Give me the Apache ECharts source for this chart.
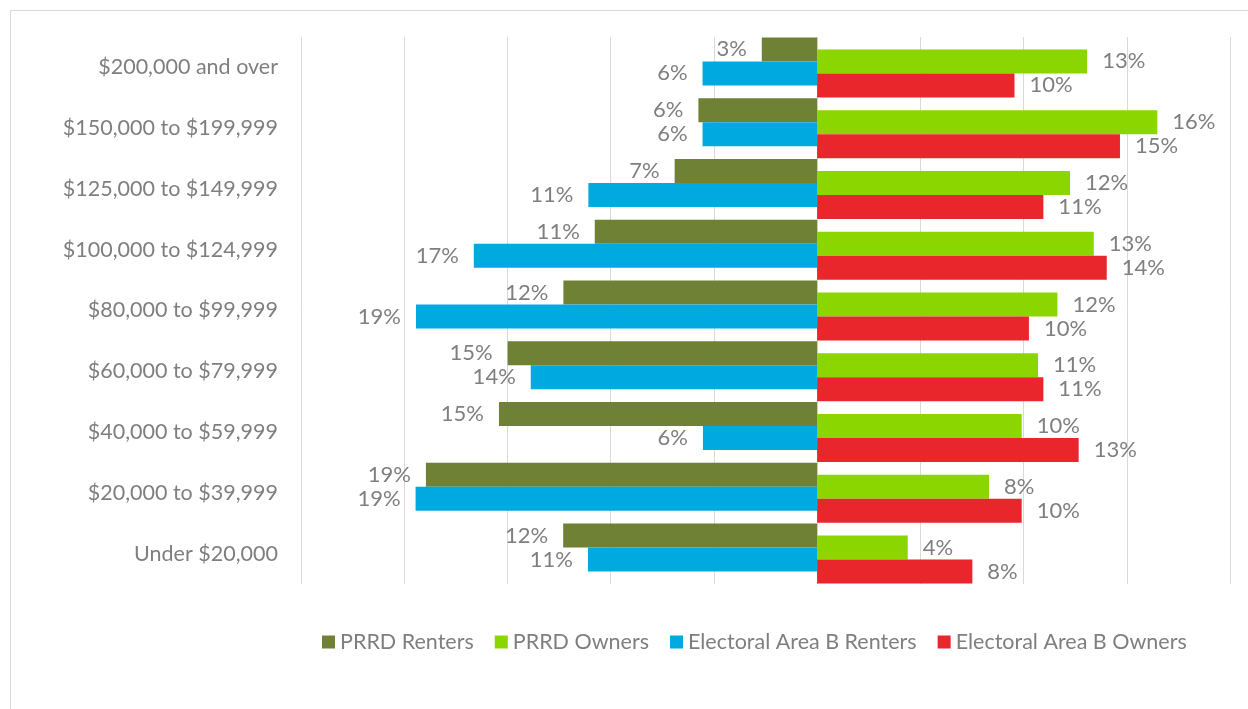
<!DOCTYPE html>
<html>
<head>
<meta charset="utf-8">
<script src="https://cdn.jsdelivr.net/npm/echarts@6/dist/echarts.min.js"></script>
<style>
  html, body { margin: 0; padding: 0; background: #ffffff; }
  #chart { width: 1248px; height: 709px; }
</style>
</head>
<body>
<div id="chart"></div>
<script>
// Categories, listed top to bottom as shown
const categories = [
  '$200,000 and over',
  '$150,000 to $199,999',
  '$125,000 to $149,999',
  '$100,000 to $124,999',
  '$80,000 to $99,999',
  '$60,000 to $79,999',
  '$40,000 to $59,999',
  '$20,000 to $39,999',
  'Under $20,000'
];

// Shares in percent (renters drawn to the left of zero)
const prrdRenters = [2.68, 5.75, 6.9, 10.77, 12.29, 14.99, 15.41, 18.95, 12.3];
const prrdOwners  = [13.08, 16.48, 12.25, 13.4, 11.64, 10.7, 9.91, 8.33, 4.39];
const eabRenters  = [5.55, 5.55, 11.08, 16.63, 19.43, 13.87, 5.53, 19.45, 11.1];
const eabOwners   = [9.56, 14.67, 10.96, 14.03, 10.26, 10.96, 12.67, 9.91, 7.52];

const seriesNames = ['PRRD Renters', 'PRRD Owners', 'Electoral Area B Renters', 'Electoral Area B Owners'];
const seriesColors = ['#6E8135', '#8CD600', '#00A9DF', '#E8262B'];

const FONT = 'Lato';
const TEXT = '#7f7f7f';

function makeSeries(idx, values, leftSide) {
  return {
    name: seriesNames[idx],
    type: 'bar',
    data: values.map(v => leftSide ? -v : v),
    barWidth: 24,
    barGap: '-50%',
    itemStyle: { color: seriesColors[idx] },
    label: {
      show: true,
      position: leftSide ? 'left' : 'right',
      distance: 15,
      color: TEXT,
      fontFamily: FONT,
      fontSize: 22,
      formatter: p => Math.round(Math.abs(p.value)) + '%'
    },
    emphasis: { disabled: true }
  };
}

const chart = echarts.init(document.getElementById('chart'), null, { renderer: 'canvas' });
chart.setOption({
  animation: false,
  backgroundColor: '#ffffff',
  textStyle: { fontFamily: FONT },
  graphic: [{
    type: 'rect',
    shape: { x: 10.5, y: 10.5, width: 1300, height: 800 },
    style: { fill: 'none', stroke: '#d9d9d9', lineWidth: 1 },
    silent: true,
    z: -10
  }],
  grid: { left: 301, right: 18, top: 37, bottom: 125 },
  xAxis: {
    type: 'value',
    min: -25,
    max: 20,
    interval: 5,
    axisLabel: { show: false },
    axisLine: { show: false },
    axisTick: { show: false },
    splitLine: { show: true, lineStyle: { color: '#d9d9d9', width: 1 } }
  },
  yAxis: {
    type: 'category',
    inverse: true,
    data: categories,
    axisLine: { show: false, onZero: false },
    axisTick: { show: false },
    axisLabel: { color: TEXT, fontFamily: FONT, fontSize: 21.5, margin: 23 }
  },
  legend: {
    data: seriesNames,
    left: 322,
    top: 631,
    padding: 0,
    icon: 'rect',
    itemWidth: 13,
    itemHeight: 13,
    itemGap: 21,
    textStyle: { color: TEXT, fontFamily: FONT, fontSize: 21.5 }
  },
  series: [
    makeSeries(0, prrdRenters, true),
    makeSeries(1, prrdOwners, false),
    makeSeries(2, eabRenters, true),
    makeSeries(3, eabOwners, false)
  ]
});
</script>
</body>
</html>
